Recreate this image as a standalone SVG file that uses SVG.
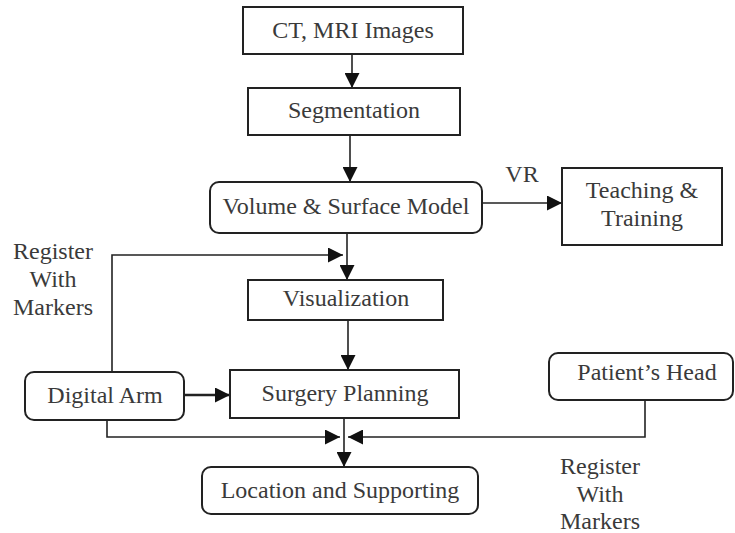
<svg xmlns="http://www.w3.org/2000/svg" width="735" height="533" viewBox="0 0 735 533">
<defs>
<style>
.box{fill:#fff;stroke:#222;stroke-width:2}
.t{font-family:"Liberation Serif","Times New Roman",serif;font-size:24px;fill:#3a3a3a;text-anchor:middle}
.c{fill:none;stroke:#222;stroke-width:1.6}
</style>
<marker id="ah" markerWidth="15" markerHeight="15" refX="15" refY="7.5" orient="auto" markerUnits="userSpaceOnUse">
<path d="M0,0 L15,7.5 L0,15 Z" fill="#111"/>
</marker>
</defs>
<rect width="735" height="533" fill="#fff"/>
<g id="connectors">
<line class="c" x1="352" y1="54" x2="352" y2="88" marker-end="url(#ah)"/>
<line class="c" x1="350" y1="135" x2="350" y2="182" marker-end="url(#ah)"/>
<line class="c" x1="347" y1="233" x2="347" y2="280" marker-end="url(#ah)"/>
<polyline class="c" points="112,372 112,255 343,255" marker-end="url(#ah)"/>
<line class="c" x1="482" y1="203" x2="562" y2="203" marker-end="url(#ah)"/>
<line class="c" x1="348" y1="320" x2="348" y2="370" marker-end="url(#ah)"/>
<line class="c" x1="184" y1="395" x2="230" y2="395" marker-end="url(#ah)" style="stroke-width:2.5"/>
<polyline class="c" points="107,420 107,437 340,437" marker-end="url(#ah)"/>
<polyline class="c" points="645,400 645,437 348,437" marker-end="url(#ah)"/>
<line class="c" x1="344" y1="418" x2="344" y2="467" marker-end="url(#ah)"/>
<text class="t" x="522" y="182">VR</text>
<text class="t" x="53" y="259">Register</text>
<text class="t" x="53" y="287">With</text>
<text class="t" x="53" y="315">Markers</text>
<text class="t" x="600" y="474">Register</text>
<text class="t" x="600" y="502">With</text>
<text class="t" x="600" y="529">Markers</text>
</g>
<g id="ct">
<rect class="box" x="243" y="7" width="220" height="47"/>
<text class="t" x="353" y="38">CT, MRI Images</text>
</g>
<g id="segmentation">
<rect class="box" x="248" y="88" width="212" height="47"/>
<text class="t" x="354" y="118">Segmentation</text>
</g>
<g id="volume">
<rect class="box" x="210" y="182" width="272" height="51" rx="9"/>
<text class="t" x="346" y="214">Volume &amp; Surface Model</text>
</g>
<g id="teaching">
<rect class="box" x="562" y="168" width="160" height="77"/>
<text class="t" x="642" y="198">Teaching &amp;</text>
<text class="t" x="642" y="226">Training</text>
</g>
<g id="visualization">
<rect class="box" x="248" y="280" width="195" height="40"/>
<text class="t" x="346" y="306">Visualization</text>
</g>
<g id="digitalarm">
<rect class="box" x="25" y="372" width="159" height="48" rx="9"/>
<text class="t" x="105" y="403">Digital Arm</text>
</g>
<g id="surgery">
<rect class="box" x="230" y="370" width="229" height="48"/>
<text class="t" x="345" y="401">Surgery Planning</text>
</g>
<g id="patient">
<rect class="box" x="549" y="353" width="184" height="47" rx="9"/>
<text class="t" x="647" y="380">Patient’s Head</text>
</g>
<g id="location">
<rect class="box" x="202" y="467" width="276" height="47" rx="9"/>
<text class="t" x="340" y="498">Location and Supporting</text>
</g>
</svg>
